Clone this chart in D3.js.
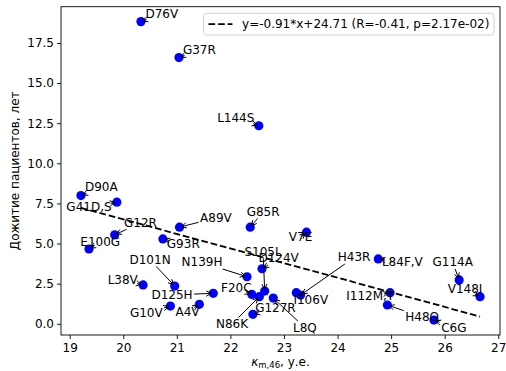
<!DOCTYPE html>
<html>
<head>
<meta charset="utf-8">
<script src="https://cdn.jsdelivr.net/npm/d3@7"></script>
<style>
  body { margin: 0; background: #fff; }
  text { font-family: "DejaVu Sans", sans-serif; }
</style>
</head>
<body>
<div id="chart"></div>
<script>
// mutations, kappa value, survival (years)
const mutations = ["D76V", "G37R", "L144S", "D90A", "G41D,S", "G12R", "E100G", "A89V",
  "G93R", "G85R", "V7E", "S105L", "D124V", "N139H", "H43R", "I106V", "L84F,V", "G114A",
  "V148I", "I112M,T", "H48Q", "C6G", "D101N", "L38V", "D125H", "F20C", "G10V", "A4V",
  "N86K", "G127R", "L8Q"];
const kappa = [20.33, 21.04, 22.53, 19.21, 19.88, 19.84, 19.36, 21.05,
  20.74, 22.37, 23.42, 22.64, 22.59, 22.31, 23.31, 23.23, 24.76, 26.27,
  26.66, 24.98, 24.93, 25.80, 20.96, 20.37, 21.68, 22.40, 20.88, 21.42,
  22.54, 22.42, 22.80];
const survival = [18.83, 16.59, 12.34, 7.99, 7.58, 5.54, 4.66, 6.02,
  5.29, 6.02, 5.71, 2.04, 3.43, 2.93, 1.79, 1.94, 4.04, 2.73,
  1.69, 1.94, 1.17, 0.23, 2.35, 2.42, 1.90, 1.83, 1.10, 1.21,
  1.69, 0.59, 1.60];

// where each annotation text sits (data units)
const labelX = [20.72, 21.42, 22.10, 19.59, 19.36, 20.32, 19.57, 21.73,
  21.12, 22.61, 23.31, 22.61, 22.90, 21.47, 24.31, 23.50, 25.21, 26.15,
  26.38, 24.61, 25.58, 26.17, 20.50, 19.99, 20.91, 22.11, 20.43, 21.20,
  22.03, 22.84, 23.39];
const labelY = [19.30, 17.08, 12.84, 8.50, 7.28, 6.29, 5.07, 6.60,
  4.98, 6.97, 5.38, 4.48, 4.07, 3.82, 4.13, 1.51, 3.82, 3.82,
  2.17, 1.70, 0.42, -0.24, 3.98, 2.73, 1.79, 2.20, 0.70, 0.76,
  -0.02, 1.01, -0.24];

const slope = -0.91, intercept = 24.71;
const legendText = "y=-0.91*x+24.71 (R=-0.41, p=2.17e-02)";
const xTicks = [19, 20, 21, 22, 23, 24, 25, 26, 27];
const yTicks = [0, 2.5, 5, 7.5, 10, 12.5, 15, 17.5];

const width = 506, height = 371;
const margin = {top: 6.7, right: 6, bottom: 36, left: 61};

const svg = d3.select("#chart")
  .append("svg")
  .attr("width", width)
  .attr("height", height);

// 5% padding like matplotlib
const xExt = d3.extent(kappa), yExt = d3.extent(survival);
const xPad = (xExt[1] - xExt[0]) * 0.05, yPad = (yExt[1] - yExt[0]) * 0.05;

const x = d3.scaleLinear()
  .domain([xExt[0] - xPad, xExt[1] + xPad])
  .range([margin.left, width - margin.right]);
const y = d3.scaleLinear()
  .domain([yExt[0] - yPad, yExt[1] + yPad])
  .range([height - margin.bottom, margin.top]);

// axes
const xAxis = svg.append("g")
  .attr("transform", `translate(0,${height - margin.bottom})`)
  .call(d3.axisBottom(x).tickValues(xTicks).tickFormat(d3.format("d")).tickSizeOuter(0).tickSize(4).tickPadding(4.5));
const yAxis = svg.append("g")
  .attr("transform", `translate(${margin.left},0)`)
  .call(d3.axisLeft(y).tickValues(yTicks).tickFormat(d3.format(".1f")).tickSizeOuter(0).tickSize(4).tickPadding(3));
[xAxis, yAxis].forEach(g => {
  g.select(".domain").remove();
  g.selectAll("text").attr("font-size", 12).attr("fill", "#000")
    .style("font-family", "'DejaVu Sans', sans-serif");
  g.selectAll("line").attr("stroke", "#000").attr("stroke-width", 0.9);
});

svg.append("rect")
  .attr("x", margin.left).attr("y", margin.top)
  .attr("width", width - margin.left - margin.right)
  .attr("height", height - margin.top - margin.bottom)
  .attr("fill", "none").attr("stroke", "#000").attr("stroke-width", 0.9);

// axis labels
const xl = svg.append("text")
  .attr("x", (margin.left + width - margin.right) / 2)
  .attr("y", 366)
  .attr("text-anchor", "middle")
  .attr("font-size", 12);
xl.append("tspan").attr("font-style", "italic").text("κ");
xl.append("tspan").attr("font-size", 8.5).attr("dy", 2).text("m,46");
xl.append("tspan").attr("dy", -2).text(", у.е.");

svg.append("text")
  .attr("transform", `translate(19,${(margin.top + height - margin.bottom) / 2}) rotate(-90)`)
  .attr("text-anchor", "middle")
  .attr("font-size", 12)
  .text("Дожитие пациентов, лет");

// points
const pts = mutations.map((m, i) => ({m, k: kappa[i], s: survival[i], lx: labelX[i], ly: labelY[i]}));

svg.append("g")
  .selectAll("circle")
  .data(pts)
  .join("circle")
  .attr("cx", d => x(d.k))
  .attr("cy", d => y(d.s))
  .attr("r", 4.6)
  .attr("fill", "#0000ff");

// regression line
const xr = d3.extent(kappa);
svg.append("line")
  .attr("x1", x(xr[0])).attr("y1", y(slope * xr[0] + intercept))
  .attr("x2", x(xr[1])).attr("y2", y(slope * xr[1] + intercept))
  .attr("stroke", "#000").attr("stroke-width", 1.8)
  .attr("stroke-dasharray", "6.7,2.9");

// annotations with arrows
const ann = svg.append("g");
pts.forEach(d => {
  const cx = x(d.lx), cy = y(d.ly), px = x(d.k), py = y(d.s);
  const t = ann.append("text")
    .attr("x", cx).attr("y", cy)
    .attr("text-anchor", "middle")
    .attr("dominant-baseline", "central")
    .attr("font-size", 12)
    .text(d.m);
  const hw = t.node().getComputedTextLength() / 2 + 1.5, hh = 6.5;
  const dx = px - cx, dy = py - cy, len = Math.hypot(dx, dy);
  if (len < 1) return;
  const ux = dx / len, uy = dy / len;
  const tb = Math.min(dx !== 0 ? hw / Math.abs(dx) : Infinity, dy !== 0 ? hh / Math.abs(dy) : Infinity);
  let sx = cx + dx * Math.min(tb, 1), sy = cy + dy * Math.min(tb, 1);
  const ex = px - ux * 2, ey = py - uy * 2;
  if ((ex - sx) * ux + (ey - sy) * uy < 3) { sx = ex - ux * 4; sy = ey - uy * 4; }
  ann.append("line")
    .attr("x1", sx).attr("y1", sy).attr("x2", ex).attr("y2", ey)
    .attr("stroke", "#000").attr("stroke-width", 1);
  const hl = 5, hwid = 2.6;
  ann.append("path")
    .attr("d", `M${ex - ux * hl - uy * hwid},${ey - uy * hl + ux * hwid}L${ex},${ey}L${ex - ux * hl + uy * hwid},${ey - uy * hl - ux * hwid}`)
    .attr("fill", "none").attr("stroke", "#000").attr("stroke-width", 1);
});

// legend
const lg = svg.append("g");
const lt = lg.append("text")
  .attr("font-size", 12)
  .attr("dominant-baseline", "central")
  .text(legendText);
const tw = lt.node().getComputedTextLength();
const boxW = tw + 43, boxH = 21.7;
const bx = width - margin.right - 6 - boxW, by = margin.top + 6.6;
lg.insert("rect", "text")
  .attr("x", bx).attr("y", by)
  .attr("width", boxW).attr("height", boxH)
  .attr("rx", 2.5)
  .attr("fill", "#fff").attr("fill-opacity", 0.8)
  .attr("stroke", "#d0d0d0").attr("stroke-width", 1);
lg.append("line")
  .attr("x1", bx + 4.8).attr("x2", bx + 28.8)
  .attr("y1", by + boxH / 2).attr("y2", by + boxH / 2)
  .attr("stroke", "#000").attr("stroke-width", 1.8)
  .attr("stroke-dasharray", "6.7,2.9");
lt.attr("x", bx + 38.4).attr("y", by + boxH / 2);
</script>
</body>
</html>
